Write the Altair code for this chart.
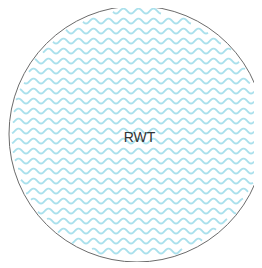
import altair as alt
import pandas as pd

# data
categories = ["RWT"]
values = [100]

pie_df = pd.DataFrame({"category": categories, "value": values})

# layout / style constants
W, H = 246, 254
CX, CY, R = 129.0, 126.0, 128.0
ROW_GAP, PERIOD, AMP = 10.0, 15.0, 2.5
ROWS = int(2 * R / ROW_GAP) + 2
PTS = int(2 * R) + 2
LINE_COLOR = "#aae0ec"

base = alt.Chart(pie_df)

disc = base.mark_arc(outerRadius=R, fill="white", stroke="#6b6b6b", strokeWidth=1).encode(
    theta=alt.Theta("value:Q", stack=True),
    x=alt.value(CX),
    y=alt.value(CY),
)

# wave pattern fill of the slice (texture, computed by Vega-Lite)
texture = (
    alt.Chart(alt.sequence(0, ROWS * PTS, as_="k"))
    .transform_calculate(row=f"floor(datum.k / {PTS})", j=f"datum.k % {PTS}")
    .transform_calculate(
        px=f"{CX - R} + datum.j",
        y0=f"{CY - R} + {ROW_GAP / 2} + datum.row * {ROW_GAP}",
    )
    .transform_calculate(py=f"datum.y0 + {AMP} * cos(2 * PI * (datum.px - 3) / {PERIOD})")
    .transform_filter(
        f"pow(datum.px - {CX}, 2) + pow(datum.y0 - {CY}, 2) <= pow({R - 2.5}, 2)"
    )
    .transform_filter(f"datum.px <= {W}")
    .mark_line(color=LINE_COLOR, strokeWidth=1.8)
    .encode(
        x=alt.X("px:Q", scale=None, axis=None),
        y=alt.Y("py:Q", scale=None, axis=None),
        detail="row:N",
        order="px:Q",
    )
)

label = base.mark_text(
    font="Liberation Sans", fontSize=14, color="#333333", baseline="middle", align="center"
).encode(
    text="category:N",
    x=alt.value(131.5),
    y=alt.value(130),
)

chart = (
    alt.layer(disc, texture, label)
    .properties(width=W, height=H, padding=0, autosize=alt.AutoSizeParams(type="none"))
    .configure_view(stroke=None)
)

chart.save("out.html", embed_options={"renderer": "svg", "actions": False})
